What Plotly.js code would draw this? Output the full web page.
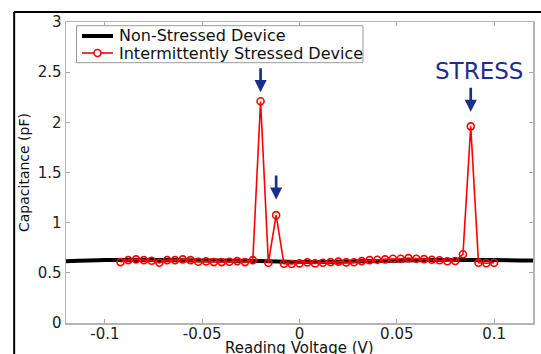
<!DOCTYPE html>
<html>
<head>
<meta charset="utf-8">
<script src="https://cdn.plot.ly/plotly-3.0.1.min.js"></script>
<style>
html,body{margin:0;padding:0;background:#fff;}
#chart{width:541px;height:354px;}
</style>
</head>
<body>
<div id="chart"></div>
<script>
// Non-stressed device (smooth reference curve)
const baseVoltage = [-0.12,-0.10,-0.08,-0.06,-0.04,-0.02,0.00,0.02,0.04,0.06,0.08,0.10,0.12];
const baseCap     = [0.615,0.628,0.628,0.625,0.622,0.618,0.608,0.610,0.618,0.625,0.628,0.628,0.622];

// Intermittently stressed device
const stressVoltage = [-0.092,-0.088,-0.084,-0.080,-0.076,-0.072,-0.068,-0.064,-0.060,-0.056,
  -0.052,-0.048,-0.044,-0.040,-0.036,-0.032,-0.028,-0.024,-0.020,-0.016,
  -0.012,-0.008,-0.004,0.000,0.004,0.008,0.012,0.016,0.020,0.024,
  0.028,0.032,0.036,0.040,0.044,0.048,0.052,0.056,0.060,0.064,
  0.068,0.072,0.076,0.080,0.084,0.088,0.092,0.096,0.100];
const stressCap = [0.607,0.627,0.634,0.627,0.620,0.600,0.627,0.627,0.634,0.627,
  0.611,0.614,0.607,0.607,0.611,0.617,0.607,0.627,2.21,0.600,
  1.075,0.590,0.588,0.594,0.604,0.594,0.601,0.607,0.612,0.604,
  0.606,0.617,0.627,0.630,0.634,0.641,0.641,0.647,0.640,0.637,
  0.630,0.625,0.615,0.618,0.685,1.96,0.600,0.595,0.600];

const seriesNames = ['Non-Stressed Device','Intermittently Stressed Device'];
const xTitle = 'Reading Voltage (V)';
const yTitle = 'Capacitance (pF)';

// Annotation arrows (x, tip, tail) and label
const arrowX    = [-0.020,-0.012,0.088];
const arrowTip  = [2.30,1.23,2.105];
const arrowTail = [2.555,1.485,2.36];
const stressLabel = {text:'STRESS', x:0.092, y:2.51};

const navy = '#1c2e8c';
const FONT = 'DejaVu Sans, Arial, sans-serif';
const tickFont = {family:FONT, size:15, color:'#222'};

const traces = [
  {x:baseVoltage, y:baseCap, type:'scatter', mode:'lines', name:seriesNames[0],
   line:{color:'#000', width:4, shape:'spline'}},
  {x:stressVoltage, y:stressCap, type:'scatter', mode:'lines+markers', name:seriesNames[1],
   line:{color:'#ff0000', width:1.6},
   marker:{symbol:'circle-open', size:7, color:'#ff0000', line:{width:1.6, color:'#ff0000'}}}
];

const annotations = arrowX.map((x,i)=>({
  x:x, y:arrowTip[i], ax:x, ay:arrowTail[i], xref:'x', yref:'y', axref:'x', ayref:'y',
  text:'', showarrow:true, arrowhead:2, arrowsize:0.9, arrowwidth:2.7, arrowcolor:navy
}));
annotations.push({x:stressLabel.x, y:stressLabel.y, xref:'x', yref:'y', text:stressLabel.text,
  showarrow:false, font:{family:FONT, size:23, color:navy},
  xanchor:'center', yanchor:'middle'});

// x-axis title, just below the tick labels at the bottom edge of the figure
annotations.push({x:0.5, y:-0.05, xref:'paper', yref:'paper', text:xTitle, showarrow:false,
  xanchor:'center', yanchor:'top', borderpad:0, font:{family:FONT, size:15, color:'#111'}});

// Legend (drawn in paper coordinates, MATLAB style)
const legBox = {x0:0.0225, x1:0.636, y0:0.8648, y1:0.9877};
const legRowY = [0.9535, 0.897];
const legLineX = [0.0343, 0.1006];
const legTextX = 0.1092;
seriesNames.forEach((n,i)=>{
  annotations.push({x:legTextX, y:legRowY[i], xref:'paper', yref:'paper', text:n, showarrow:false,
    xanchor:'left', yanchor:'middle', font:{family:FONT, size:16, color:'#111'}});
});

const frameColor = '#000';
const shapes = [
  {type:'line', xref:'paper', yref:'paper', x0:-0.111, x1:-0.111, y0:-0.11, y1:1.0332, line:{color:frameColor, width:2}},
  {type:'line', xref:'paper', yref:'paper', x0:-0.111, x1:1.03, y0:1.0332, y1:1.0332, line:{color:frameColor, width:2}},
  {type:'rect', xref:'paper', yref:'paper', x0:legBox.x0, x1:legBox.x1, y0:legBox.y0, y1:legBox.y1,
    fillcolor:'#fff', line:{color:'#999', width:1}, layer:'above'},
  {type:'line', xref:'paper', yref:'paper', x0:legLineX[0], x1:legLineX[1], y0:legRowY[0], y1:legRowY[0],
    line:{color:'#000', width:4}, layer:'above'},
  {type:'line', xref:'paper', yref:'paper', x0:legLineX[0], x1:legLineX[1], y0:legRowY[1], y1:legRowY[1],
    line:{color:'#ff0000', width:1.6}, layer:'above'},
  {type:'circle', xref:'paper', yref:'paper', xsizemode:'pixel', ysizemode:'pixel',
    xanchor:(legLineX[0]+legLineX[1])/2, yanchor:legRowY[1], x0:-3.5, x1:3.5, y0:-3.5, y1:3.5,
    fillcolor:'#fff', line:{color:'#ff0000', width:1.6}, layer:'above'}
];

const layout = {
  width:541, height:354,
  margin:{l:66, r:8, t:22, b:31, pad:0},
  paper_bgcolor:'#fff', plot_bgcolor:'#fff',
  showlegend:false,
  xaxis:{range:[-0.12,0.12], tickvals:[-0.1,-0.05,0,0.05,0.1], ticktext:['-0.1','-0.05','0','0.05','0.1'],
    ticks:'inside', ticklen:4, tickcolor:'#aaa', showline:true, linecolor:'#b4b4b4', linewidth:1.5,
    mirror:'ticks', showgrid:false, zeroline:false, tickfont:tickFont, ticklabelstandoff:-4},
  yaxis:{range:[0,3], tickvals:[0,0.5,1,1.5,2,2.5,3], ticktext:['0','0.5','1','1.5','2','2.5','3'],
    ticks:'inside', ticklen:4, tickcolor:'#aaa', showline:true, linecolor:'#b4b4b4', linewidth:1.5,
    mirror:'ticks', showgrid:false, zeroline:false, tickfont:tickFont,
    title:{text:yTitle, font:{family:FONT, size:14, color:'#111'}, standoff:4}},
  annotations:annotations,
  shapes:shapes
};

Plotly.newPlot('chart', traces, layout, {staticPlot:true, displayModeBar:false});
</script>
</body>
</html>
